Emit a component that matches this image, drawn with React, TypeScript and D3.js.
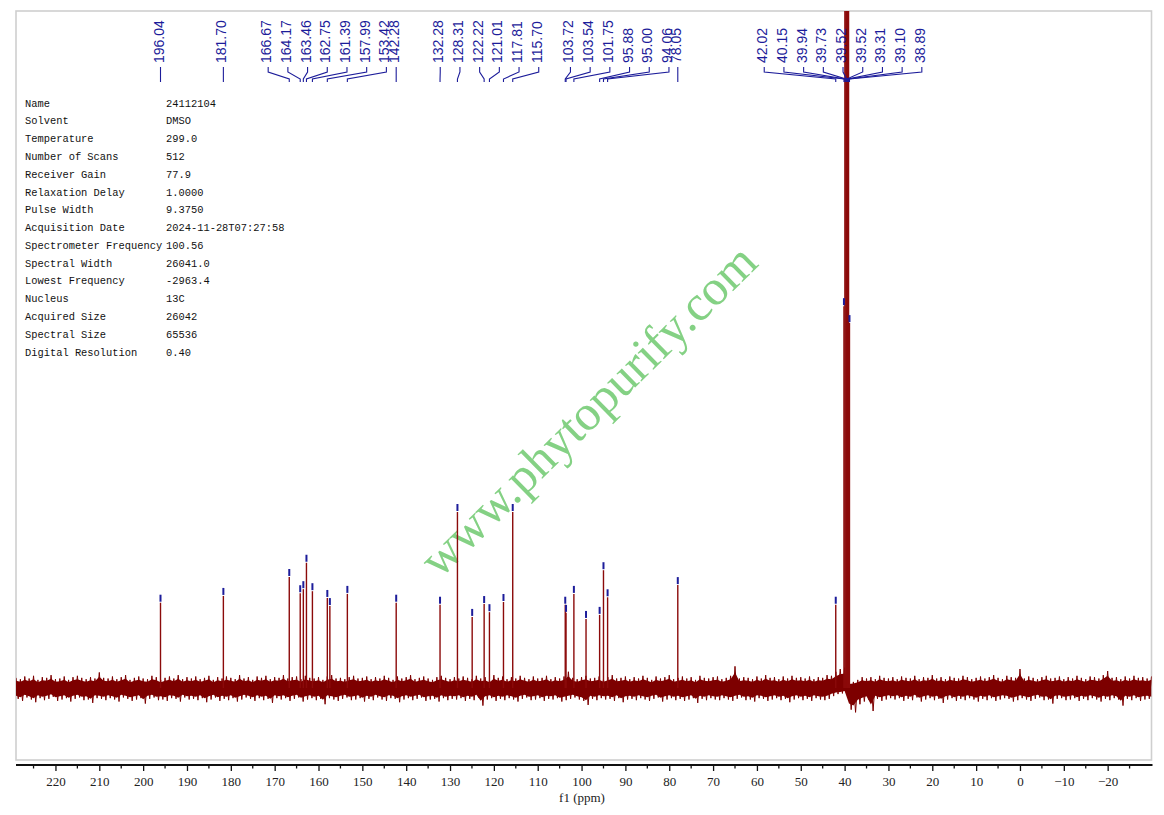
import React, { useEffect, useRef } from 'react'
import * as d3 from 'd3'

// picked peaks (ppm) and their heights (arbitrary units, 100 = top of frame)
const peakShifts = [
  196.04, 181.7, 166.67, 164.17, 163.46, 162.75, 161.39, 157.99, 157.41, 153.42,
  142.28, 132.28, 128.31, 124.95, 122.22, 121.01, 117.81, 115.7, 103.72, 103.54,
  101.75, 98.98, 95.88, 95.0, 94.06, 78.05, 42.02, 40.15, 39.94, 39.73,
  39.52, 39.31, 39.1, 38.89,
]
const peakHeights = [
  12.6, 13.6, 16.4, 14.0, 14.6, 18.5, 14.3, 13.3, 12.1, 13.9,
  12.6, 12.3, 26.0, 10.5, 12.4, 11.2, 12.7, 26.0, 12.3, 11.1,
  13.9, 10.2, 10.8, 17.4, 13.4, 15.2, 12.3, 56.4, 170, 340,
  400, 340, 170, 53.9,
]

// peak labels, grouped as they are fanned out on top (group centre in ppm)
const labelGroupCenters = [196.04, 181.7, 158.0, 142.28, 121.0, 91.3, 78.05, 40.36]
const labelGroupTexts = [
  ['196.04'],
  ['181.70'],
  ['166.67', '164.17', '163.46', '162.75', '161.39', '157.99', '153.42'],
  ['142.28'],
  ['132.28', '128.31', '122.22', '121.01', '117.81', '115.70'],
  ['103.72', '103.54', '101.75', '95.88', '95.00', '94.06'],
  ['78.05'],
  ['42.02', '40.15', '39.94', '39.73', '39.52', '39.52', '39.31', '39.10', '38.89'],
]

// baseline noise envelope, one value per ppm starting at 229 ppm
const noiseStart = 229
const noiseHigh = [
  1.5, 1.3, 1.7, 1.4, 1.8, 1.2, 1.6, 1.5, 1.9, 1.3, 1.4, 1.7, 1.2, 1.6, 1.8, 1.5, 1.3, 1.6, 1.4, 2.3,
  1.5, 1.4, 1.7, 1.3, 1.6, 1.9, 1.2, 1.5, 1.7, 1.4, 1.3, 1.8, 1.6, 1.2, 1.5, 1.7, 1.4, 1.9, 1.3, 1.6,
  1.4, 1.7, 1.3, 1.5, 1.8, 1.2, 1.6, 1.4, 1.7, 1.5, 1.3, 1.9, 1.4, 1.6, 1.2, 1.7, 1.5, 1.8, 1.3, 1.6,
  1.5, 1.9, 1.4, 1.6, 1.7, 1.3, 1.8, 1.5, 1.4, 1.6, 1.2, 1.7, 1.9, 1.4, 1.5, 1.3, 1.6, 1.8, 1.4, 1.5,
  1.7, 1.3, 1.6, 1.4, 1.8, 1.5, 1.2, 1.7, 1.4, 1.6, 1.9, 1.3, 1.5, 1.7, 1.4, 1.2, 1.6, 1.8, 1.5, 1.3,
  1.6, 1.4, 1.7, 1.5, 1.3, 1.8, 1.4, 1.6, 1.2, 1.9, 1.5, 1.7, 1.3, 1.6, 1.4, 1.8, 1.5, 1.3, 1.7, 1.4,
  1.5, 1.8, 1.3, 1.6, 1.4, 1.7, 2.4, 1.5, 1.3, 1.6, 1.8, 1.4, 1.5, 1.7, 1.3, 1.6, 1.9, 1.4, 1.5, 1.7,
  1.3, 1.6, 1.4, 1.8, 1.5, 1.2, 1.7, 1.4, 1.6, 1.9, 1.3, 1.5, 1.7, 1.4, 1.6, 1.2, 1.8, 1.5, 1.4, 1.6,
  1.7, 1.3, 1.5, 1.8, 3.2, 1.4, 1.6, 1.5, 1.3, 1.7, 1.4, 1.9, 1.5, 1.6, 1.3, 1.7, 1.4, 1.8, 1.5, 1.6,
  1.4, 1.7, 1.3, 1.6, 1.5, 1.9, 1.8, 2.4, 2.8, 3.0, 0.8, 0.9, 1.2, 1.6, 1.4, 1.6, 1.3, 1.8, 1.5, 1.4,
  1.6, 1.3, 1.7, 1.5, 1.4, 1.8, 1.3, 1.6, 1.5, 1.9, 1.4, 1.6, 1.3, 1.7, 1.5, 1.4, 1.8, 1.6, 1.3, 1.5,
  1.7, 1.4, 1.6, 1.9, 1.5, 1.3, 1.8, 1.6, 1.5, 2.8, 1.4, 1.7, 1.5, 1.3, 1.6, 1.8, 1.4, 1.5, 1.7, 1.3,
  1.6, 1.4, 1.8, 1.5, 1.3, 1.7, 1.6, 1.4, 1.9, 2.5, 1.5, 1.6, 1.3, 1.7, 1.4, 1.8, 1.5, 1.6, 1.4, 1.7,
]
const noiseLow = [
  1.6, 1.9, 1.4, 1.7, 2.1, 1.5, 1.8, 1.6, 1.3, 1.9, 1.7, 1.5, 2.0, 1.6, 1.4, 1.8, 1.7, 2.2, 1.5, 1.6,
  1.8, 1.5, 1.7, 2.0, 1.4, 1.6, 1.9, 1.7, 1.5, 2.3, 1.6, 1.4, 1.8, 1.7, 1.9, 1.5, 1.6, 2.0, 1.4, 1.7,
  1.6, 1.8, 1.5, 2.1, 1.7, 1.4, 1.9, 1.6, 1.8, 1.5, 2.0, 1.7, 1.4, 1.6, 1.9, 1.5, 1.8, 1.6, 2.2, 1.5,
  1.7, 1.5, 1.9, 1.6, 1.4, 2.0, 1.7, 1.5, 1.8, 1.6, 2.4, 1.5, 1.7, 1.9, 1.6, 1.4, 1.8, 1.7, 1.5, 2.0,
  1.6, 1.8, 1.4, 1.7, 1.9, 1.5, 1.6, 2.1, 1.7, 1.5, 1.8, 1.6, 1.4, 1.9, 1.7, 1.6, 2.0, 1.5, 1.8, 1.6,
  1.7, 1.5, 1.9, 1.6, 1.8, 1.4, 2.6, 1.7, 1.5, 1.9, 1.6, 1.8, 1.5, 1.7, 2.0, 1.6, 1.4, 1.8, 1.7, 1.5,
  1.9, 1.6, 1.7, 1.5, 2.0, 1.8, 1.6, 1.4, 1.7, 1.9, 2.5, 1.6, 1.8, 1.5, 1.7, 1.6, 1.9, 1.5, 2.1, 1.7,
  1.6, 1.8, 1.5, 1.7, 1.9, 1.6, 1.4, 2.0, 1.7, 1.5, 1.8, 1.6, 1.9, 1.7, 1.5, 2.2, 1.6, 1.8, 1.5, 1.7,
  1.8, 1.5, 1.7, 1.9, 1.6, 1.4, 1.8, 1.7, 2.0, 1.5, 1.6, 1.9, 1.7, 1.5, 1.8, 1.6, 2.1, 1.7, 1.5, 1.8,
  1.6, 1.9, 1.5, 1.7, 1.8, 1.6, 1.2, 0.9, 0.8, 0.6, 3.2, 3.6, 2.4, 2.0, 1.7, 3.4, 1.6, 1.9, 1.7, 1.5,
  1.7, 1.5, 1.9, 1.6, 1.8, 1.4, 2.0, 1.7, 1.5, 1.8, 1.6, 2.2, 1.7, 1.5, 1.9, 1.6, 1.8, 1.5, 1.7, 2.0,
  1.6, 1.8, 1.5, 1.9, 1.7, 1.5, 1.6, 2.0, 1.8, 1.5, 1.7, 1.9, 1.6, 1.4, 1.8, 1.7, 2.3, 1.6, 1.5, 1.8,
  1.7, 1.5, 1.9, 1.6, 1.8, 1.5, 1.7, 2.0, 1.6, 1.8, 1.5, 1.7, 2.6, 1.6, 1.8, 1.5, 1.9, 1.7, 1.6, 1.8,
]

const paramNames = [
  'Name', 'Solvent', 'Temperature', 'Number of Scans', 'Receiver Gain', 'Relaxation Delay',
  'Pulse Width', 'Acquisition Date', 'Spectrometer Frequency', 'Spectral Width',
  'Lowest Frequency', 'Nucleus', 'Acquired Size', 'Spectral Size', 'Digital Resolution',
]
const paramValues = [
  '24112104', 'DMSO', '299.0', '512', '77.9', '1.0000', '9.3750', '2024-11-28T07:27:58',
  '100.56', '26041.0', '-2963.4', '13C', '26042', '65536', '0.40',
]

const axisTicks = [220, 210, 200, 190, 180, 170, 160, 150, 140, 130, 120, 110, 100, 90, 80, 70, 60, 50, 40, 30, 20, 10, 0, -10, -20]
const minorTicks = [225, 215, 205, 195, 185, 175, 165, 155, 145, 135, 125, 115, 105, 95, 85, 75, 65, 55, 45, 35, 25, 15, 5, -5, -15, -25]

export default function App() {
  const svgRef = useRef<SVGSVGElement>(null)

  useEffect(() => {
    if (!svgRef.current) return
    const svg = d3.select(svgRef.current)
    svg.selectAll('*').remove()

    const frame = { left: 16, top: 11, right: 1151.5, bottom: 760 }
    const axisY = 765
    const red = '#7d0000'
    const blue = '#1c1c9a'

    const x = d3.scaleLinear().domain([229, -30]).range([frame.left, frame.right])
    const y = d3.scaleLinear().domain([0, 100]).range([688, frame.top])

    svg.append('rect').attr('width', 1164).attr('height', 815).attr('fill', '#fff')

    // plot frame
    svg.append('rect')
      .attr('x', frame.left).attr('y', frame.top)
      .attr('width', frame.right - frame.left).attr('height', frame.bottom - frame.top)
      .attr('fill', 'none').attr('stroke', '#cfcfcf').attr('stroke-width', 1.6)

    svg.append('clipPath').attr('id', 'plot-clip')
      .append('rect')
      .attr('x', frame.left).attr('y', frame.top)
      .attr('width', frame.right - frame.left).attr('height', frame.bottom - frame.top)

    // watermark
    svg.append('text')
      .attr('transform', 'translate(588,410) rotate(-44.5)')
      .attr('text-anchor', 'middle')
      .attr('dominant-baseline', 'central')
      .attr('font-family', "'Liberation Serif', serif")
      .attr('font-size', 50)
      .attr('fill', '#84d184')
      .text('www.phytopurify.com')

    const plot = svg.append('g').attr('clip-path', 'url(#plot-clip)')

    // baseline noise: a solid core plus hairline spikes out to the envelope
    const noise = noiseHigh.map((h, i) => ({ ppm: noiseStart - i, hi: h, lo: -noiseLow[i] }))
    const band = d3.area<{ ppm: number; hi: number; lo: number }>()
      .x(d => x(d.ppm))
      .y0(d => y(d.lo * 0.72))
      .y1(d => y(d.hi * 0.72))
    plot.append('path').datum(noise).attr('d', band).attr('fill', red)

    const zig = noise.flatMap(d => [[d.ppm, d.hi], [d.ppm - 0.5, d.lo]] as [number, number][])
    const line = d3.line<[number, number]>().x(d => x(d[0])).y(d => y(d[1]))
    plot.append('path').datum(zig).attr('d', line)
      .attr('fill', 'none').attr('stroke', red).attr('stroke-width', 1)

    // peaks
    plot.selectAll('.peak')
      .data(peakShifts)
      .enter()
      .append('line')
      .attr('class', 'peak')
      .attr('x1', d => x(d)).attr('x2', d => x(d))
      .attr('y1', y(0))
      .attr('y2', (d, i) => y(peakHeights[i]))
      .attr('stroke', '#8b0a0a')
      .attr('stroke-width', 1.4)

    // peak pick markers
    plot.selectAll('.pick')
      .data(peakShifts)
      .enter()
      .append('line')
      .attr('class', 'pick')
      .attr('x1', d => x(d)).attr('x2', d => x(d))
      .attr('y1', (d, i) => y(peakHeights[i]) - 8)
      .attr('y2', (d, i) => y(peakHeights[i]) - 1)
      .attr('stroke', blue)
      .attr('stroke-width', 2)

    // peak labels with leader lines
    const spacing = 19.7
    const labels = labelGroupTexts.flatMap((texts, g) => {
      const cx = x(labelGroupCenters[g])
      return texts.map((t, k) => ({
        text: t,
        lx: cx + (k - (texts.length - 1) / 2) * spacing,
        px: x(parseFloat(t)),
      }))
    })
    const labelG = svg.append('g')
    labelG.selectAll('path')
      .data(labels)
      .enter()
      .append('path')
      .attr('d', d => `M${d.lx},67 L${d.lx},72 L${d.px},79 L${d.px},82`)
      .attr('fill', 'none')
      .attr('stroke', blue)
      .attr('stroke-width', 1.1)
    labelG.selectAll('text')
      .data(labels)
      .enter()
      .append('text')
      .attr('transform', d => `translate(${d.lx - 2},63) rotate(-90)`)
      .attr('dy', '0.36em')
      .attr('font-family', "'Liberation Sans', Arial, sans-serif")
      .attr('font-size', 14)
      .attr('fill', blue)
      .text(d => d.text)

    // acquisition parameters
    const rowY = d3.scalePoint<string>().domain(paramNames).range([103, 352])
    const table = svg.append('g')
      .attr('font-family', "'Liberation Mono', monospace")
      .attr('font-size', 10.4)
      .attr('fill', '#111')
    table.selectAll('.pname')
      .data(paramNames)
      .enter()
      .append('text')
      .attr('x', 25)
      .attr('y', d => rowY(d) as number)
      .attr('dy', '0.35em')
      .text(d => d)
    table.selectAll('.pval')
      .data(paramNames)
      .enter()
      .append('text')
      .attr('x', 166)
      .attr('y', d => rowY(d) as number)
      .attr('dy', '0.35em')
      .text((d, i) => paramValues[i])

    // x axis
    const xAxis = d3.axisBottom(x)
      .tickValues(axisTicks)
      .tickSize(6)
      .tickPadding(6)
      .tickFormat(d => (+d < 0 ? `\u2212${-d}` : `${d}`))
    const axisG = svg.append('g')
      .attr('transform', `translate(0,${axisY})`)
      .call(xAxis)
    axisG.select('.domain').remove()
    axisG.selectAll('line').attr('stroke', '#111').attr('stroke-width', 1.3)
    axisG.selectAll('text')
      .attr('font-family', "'Liberation Serif', serif")
      .attr('font-size', 13)
      .attr('fill', '#222')
    axisG.selectAll('.minor')
      .data(minorTicks)
      .enter()
      .append('line')
      .attr('class', 'minor')
      .attr('x1', d => x(d)).attr('x2', d => x(d))
      .attr('y1', 0).attr('y2', 3.5)
      .attr('stroke', '#111').attr('stroke-width', 1.3)
    axisG.append('line')
      .attr('x1', frame.left).attr('x2', frame.right + 1)
      .attr('stroke', '#111').attr('stroke-width', 1.8)

    svg.append('text')
      .attr('x', 582).attr('y', 797)
      .attr('dy', '0.35em')
      .attr('text-anchor', 'middle')
      .attr('font-family', "'Liberation Serif', serif")
      .attr('font-size', 13)
      .attr('fill', '#222')
      .text('f1 (ppm)')
  }, [])

  return (
    <svg
      ref={svgRef}
      width={1164}
      height={815}
      style={{ position: 'absolute', left: 0, top: 0 }}
    />
  )
}
